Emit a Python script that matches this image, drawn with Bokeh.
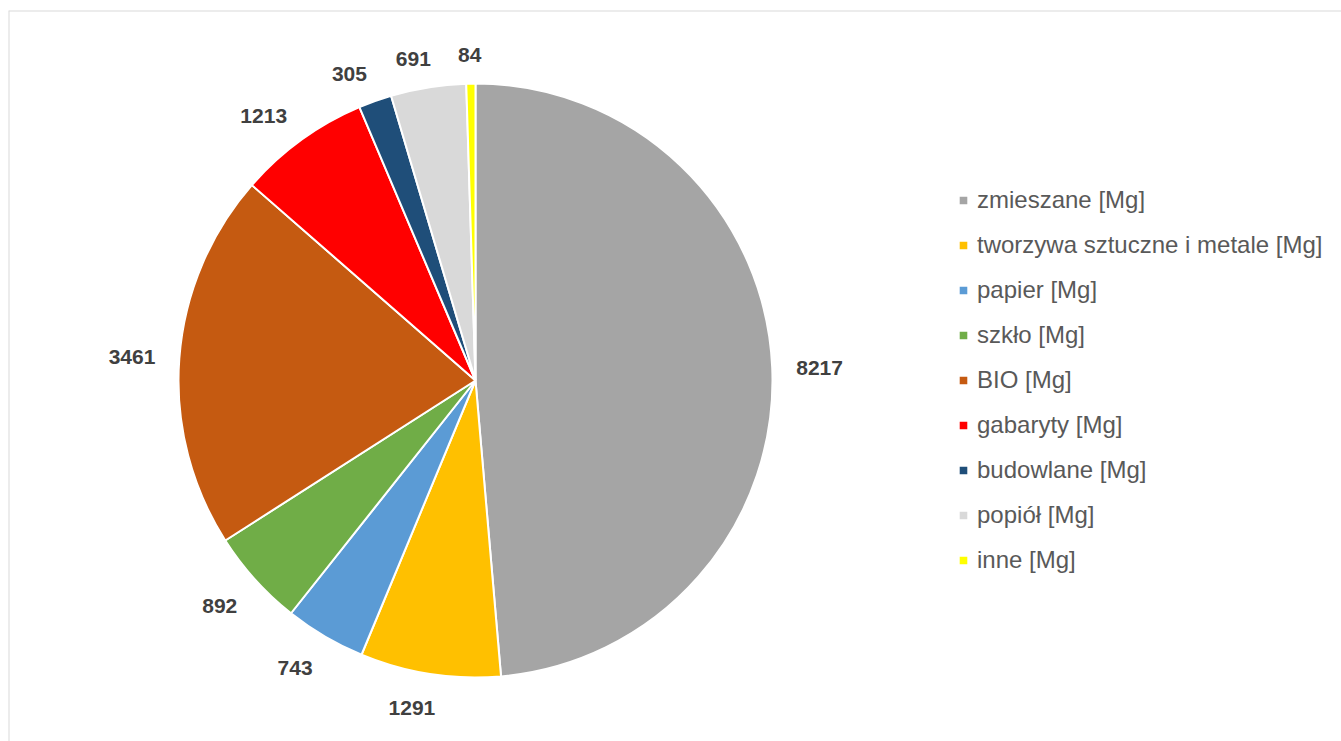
import numpy as np
from bokeh.plotting import figure
from bokeh.models import ColumnDataSource, Range1d, Legend, LegendItem, Span
from bokeh.core.properties import value
from bokeh.embed import file_html
from bokeh.resources import INLINE

# ---- data ----
categories = ["zmieszane [Mg]", "tworzywa sztuczne i metale [Mg]", "papier [Mg]",
              "szkło [Mg]", "BIO [Mg]", "gabaryty [Mg]", "budowlane [Mg]",
              "popiół [Mg]", "inne [Mg]"]
values = [8217, 1291, 743, 892, 3461, 1213, 305, 691, 84]
colors = ["#A5A5A5", "#FFC000", "#5B9BD5", "#70AD47", "#C55A11",
          "#FF0000", "#1F4E79", "#D9D9D9", "#FFFF00"]

# ---- layout ----
W, H = 1341, 741
TOP, LEFT = 10, 8
FW, FH = W - LEFT, H - TOP
CX, CY, R = 467, 361, 297
GAP = 24
FONT = "Liberation Sans"

total = float(sum(values))
frac = np.array(values, dtype=float) / total
cum = np.concatenate([[0.0], np.cumsum(frac)])
a_start = np.pi / 2 - 2 * np.pi * cum[:-1]
a_end = np.pi / 2 - 2 * np.pi * cum[1:]

src = ColumnDataSource(dict(cat=categories, val=values, color=colors,
                            s=list(a_end), e=list(a_start)))

p = figure(width=W, height=H, output_backend="svg", toolbar_location=None,
           x_axis_type=None, y_axis_type=None,
           x_range=Range1d(0, FW), y_range=Range1d(0, FH),
           min_border_left=LEFT, min_border_right=0, min_border_bottom=0,
           min_border_top=TOP)
p.grid.visible = False
p.outline_line_color = None
p.background_fill_color = "white"
p.border_fill_color = "white"

# chart-area border (only top and left edges are inside the window)
p.add_layout(Span(location=FH, dimension="width", line_color="#D9D9D9", line_width=2))
p.add_layout(Span(location=0, dimension="height", line_color="#D9D9D9", line_width=2))

wr = p.wedge(x=CX, y=CY, radius=R, start_angle="s", end_angle="e",
             direction="anticlock", fill_color="color", line_color="white",
             line_width=2, source=src)

# ---- data labels ----
mid = (a_start + a_end) / 2
ux, uy = np.cos(mid), np.sin(mid)
lbl = [str(v) for v in values]
tw = np.array([len(s) * 11.7 for s in lbl])
th = 15.0
lx = CX + (R + GAP) * ux + tw / 2 * np.clip(4 * ux, -1, 1)
ly = CY + (R + GAP) * uy + th / 2 * np.clip(4 * uy, -1, 1) - 3
lsrc = ColumnDataSource(dict(x=list(lx), y=list(ly), t=lbl))
p.text(x="x", y="y", text="t", source=lsrc, text_font=value(FONT),
       text_font_style="bold", text_font_size="21px", text_color="#404040",
       text_align="center", text_baseline="middle")

# ---- legend ----
items = [LegendItem(label=c, renderers=[wr], index=i) for i, c in enumerate(categories)]
legend = Legend(items=items, location=(949, 167), orientation="vertical",
                glyph_width=12, glyph_height=12, label_standoff=8,
                label_height=27, spacing=17, padding=0, margin=0,
                label_text_font=FONT, label_text_font_size="24px",
                label_text_color="#595959", border_line_alpha=0,
                background_fill_alpha=0)
p.add_layout(legend)

open("out.html", "w").write(file_html(p, INLINE))
